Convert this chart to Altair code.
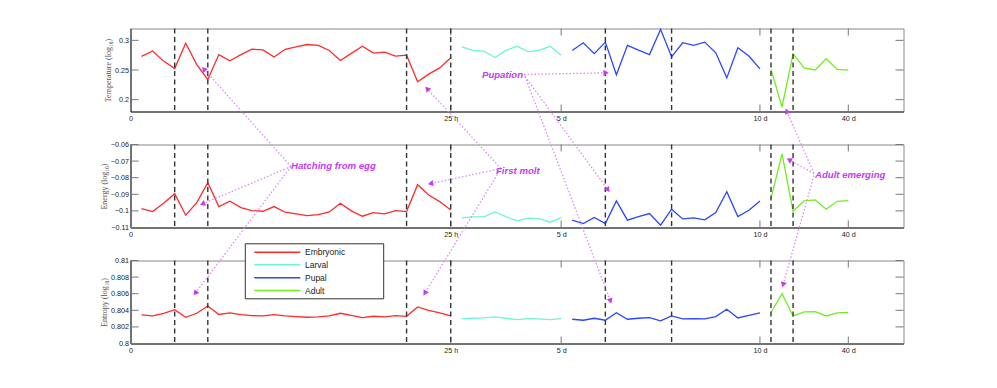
import math
import altair as alt
import pandas as pd

# ---------------- data ----------------
stages = ["Embryonic", "Larval", "Pupal", "Adult"]
stage_colors = ["#ff2a2a", "#6ef5d6", "#2845ff", "#72ee1e"]

temp_embryonic = [0.273, 0.282, 0.265, 0.2525, 0.295, 0.259, 0.234, 0.276, 0.2655, 0.276,
                  0.285, 0.284, 0.272, 0.285, 0.289, 0.293, 0.2915, 0.283, 0.266, 0.278,
                  0.290, 0.2785, 0.280, 0.2735, 0.275, 0.230, 0.243, 0.2535, 0.2705]
temp_larval = [0.289, 0.283, 0.282, 0.271, 0.283, 0.290, 0.281, 0.283, 0.290, 0.275]
temp_pupal = [0.283, 0.296, 0.2775, 0.297, 0.242, 0.2915, 0.2835, 0.276, 0.3186, 0.2723,
              0.296, 0.2915, 0.297, 0.279, 0.2367, 0.2876, 0.2735, 0.252]
temp_adult = [0.251, 0.1876, 0.2775, 0.2537, 0.250, 0.269, 0.251, 0.2497]

energy_embryonic = [-0.0986, -0.1004, -0.0954, -0.0896, -0.1026, -0.095, -0.083, -0.0974, -0.0942, -0.098,
                    -0.0998, -0.1002, -0.0974, -0.1008, -0.1018, -0.1028, -0.1022, -0.1006, -0.0954, -0.1,
                    -0.1032, -0.101, -0.1018, -0.0998, -0.1004, -0.0842, -0.0904, -0.0944, -0.0994]
energy_larval = [-0.1042, -0.1036, -0.1036, -0.1006, -0.1034, -0.106, -0.1044, -0.1046, -0.1068, -0.104]
energy_pupal = [-0.1056, -0.1076, -0.104, -0.1076, -0.094, -0.1056, -0.1034, -0.1016, -0.1086, -0.099,
                -0.1048, -0.1042, -0.1054, -0.101, -0.0884, -0.1034, -0.0996, -0.094]
energy_adult = [-0.0926, -0.0656, -0.1002, -0.094, -0.0934, -0.099, -0.0942, -0.0938]

entropy_embryonic = [0.80344, 0.80332, 0.80364, 0.80408, 0.80316, 0.80364, 0.80452, 0.8035, 0.8037, 0.80348,
                     0.80336, 0.80332, 0.80348, 0.80332, 0.80324, 0.80316, 0.8032, 0.80332, 0.80364, 0.8034,
                     0.80312, 0.80328, 0.8032, 0.80336, 0.80328, 0.8044, 0.804, 0.80368, 0.80332]
entropy_larval = [0.8030, 0.80304, 0.80308, 0.8032, 0.80304, 0.80288, 0.803, 0.80296, 0.80288, 0.803]
entropy_pupal = [0.80292, 0.8028, 0.80304, 0.8028, 0.8037, 0.80292, 0.80304, 0.80312, 0.80272, 0.80332,
                 0.80296, 0.803, 0.80296, 0.80324, 0.80412, 0.80308, 0.8034, 0.8037]
entropy_adult = [0.8037, 0.806, 0.80332, 0.8038, 0.80384, 0.80332, 0.8037, 0.80376]

# x axis: running sample number, labelled at stage boundaries
x_tick_values = [0, 29, 39, 57, 65]
x_tick_labels = ["0", "25 h", "5 d", "10 d", "40 d"]
x_max = 70
# dashed event markers (sample numbers)
event_samples = [4, 7, 25, 29, 43, 49, 58, 60]

temp_ticks = [0.2, 0.25, 0.3]
energy_ticks = [-0.11, -0.1, -0.09, -0.08, -0.07, -0.06]
entropy_ticks = [0.8, 0.802, 0.804, 0.806, 0.808, 0.81]

# annotations (page pixel positions)
annot_labels = ["Hatching from egg", "First molt", "Pupation", "Adult emerging"]
annot_text_pos = [(290, 166), (495, 171), (481, 75), (814, 175)]
annot_arrows = [
    ((290, 167), (201.7, 68.3)), ((290, 167), (200, 205)), ((290, 167), (193.3, 295)),
    ((500, 169), (425, 88)), ((500, 169), (428, 184.5)), ((500, 169), (423, 295)),
    ((523, 75), (606.7, 73.3)), ((524, 77), (608, 191.7)), ((524, 77), (610, 303)),
    ((813, 174), (785, 110)), ((813, 174), (786.7, 159.5)), ((813, 176), (781.7, 286.7)),
]

# ---------------- layout constants ----------------
W, H = 773, 83
SPACING = 33
PLOT_LEFT, PLOT_TOP = 129.5, 29
BOTTOM_TOP = PLOT_TOP + 2 * (H + SPACING)

TICK_FONT = "Liberation Sans"
TITLE_FONT = "Liberation Serif"
ANNOT_COLOR = "#c23cf2"
ARROW_COLOR = "#d98af7"

label_expr = " : ".join(
    f"datum.value == {v} ? '{l}'" for v, l in zip(x_tick_values, x_tick_labels)
) + " : ''"


def stage_frame(series):
    rows, n = [], 0
    for s, vals in zip(stages, series):
        for v in vals:
            n += 1
            rows.append({"sample": n, "value": v, "stage": s})
    return pd.DataFrame(rows)


def panel_layers(series, ydomain, yticks, ytitle, title_x):
    df = stage_frame(series)
    xs = alt.Scale(domain=[0, x_max], nice=False, zero=False)
    ys = alt.Scale(domain=ydomain, nice=False, zero=False)
    xaxis = alt.Axis(values=x_tick_values, labelExpr=label_expr, ticks=False, tickSize=0,
                     grid=False, title=None, domainColor="#222", labelFont=TICK_FONT,
                     labelFontSize=7.2, labelColor="#222", labelPadding=3, labelFlush=False,
                     labelOverlap=False)
    yaxis = alt.Axis(values=yticks, format="~g", ticks=False, tickSize=0, grid=False,
                     title=ytitle, titleFont=TITLE_FONT, titleFontSize=8, titleFontWeight="normal",
                     titleColor="#555", titleAngle=270, titleX=title_x, titleY=H / 2,
                     titleAlign="center", titleBaseline="middle",
                     domainColor="#222", labelFont=TICK_FONT, labelFontSize=7.2,
                     labelColor="#222", labelPadding=2, labelOverlap=False, labelFlush=False)
    X = lambda: alt.X("sample:Q", scale=xs, axis=xaxis)
    Y = lambda: alt.Y("value:Q", scale=ys, axis=yaxis)

    lines = alt.Chart(df).mark_line(strokeWidth=1.3).encode(
        x=X(), y=Y(),
        color=alt.Color("stage:N", scale=alt.Scale(domain=stages, range=stage_colors), legend=None),
        detail="stage:N",
    )
    ev = pd.DataFrame({"sample": event_samples})
    dashed = alt.Chart(ev).mark_rule(color="#333", strokeWidth=1.4, strokeDash=[5, 3.5]).encode(x=X())
    xt = pd.DataFrame({"sample": x_tick_values})
    xticks_b = alt.Chart(xt).mark_rule(color="#777", strokeWidth=1).encode(
        x=X(), y=alt.value(H - 7), y2=alt.value(H))
    xticks_t = alt.Chart(xt).mark_rule(color="#777", strokeWidth=1).encode(
        x=X(), y=alt.value(0), y2=alt.value(7))
    yt = pd.DataFrame({"value": yticks})
    yticks_l = alt.Chart(yt).mark_rule(color="#777", strokeWidth=1).encode(
        y=Y(), x=alt.value(0), x2=alt.value(8))
    yticks_r = alt.Chart(yt).mark_rule(color="#777", strokeWidth=1).encode(
        y=Y(), x=alt.value(W - 8), x2=alt.value(W))
    return alt.layer(lines, xticks_b, xticks_t, yticks_l, yticks_r, dashed)


top = panel_layers([temp_embryonic, temp_larval, temp_pupal, temp_adult],
                   [0.18, 0.32], temp_ticks, "Temperature (log₁₀)", -22.5).properties(width=W, height=H)
mid = panel_layers([energy_embryonic, energy_larval, energy_pupal, energy_adult],
                   [-0.11, -0.06], energy_ticks, "Energy (log₁₀)", -26).properties(width=W, height=H)
bot_data = panel_layers([entropy_embryonic, entropy_larval, entropy_pupal, entropy_adult],
                        [0.8, 0.81], entropy_ticks, "Entropy (log₁₀)", -26)

# ---- annotation & legend overlay (pixel coordinates relative to bottom panel) ----
arrow_rows, head_rows = [], []
for (sx, sy), (ex, ey) in annot_arrows:
    dx, dy = ex - sx, ey - sy
    L = math.hypot(dx, dy)
    ux, uy = dx / L, dy / L
    arrow_rows.append({"x0": sx - PLOT_LEFT, "y0": sy - BOTTOM_TOP,
                       "x1": ex - PLOT_LEFT, "y1": ey - BOTTOM_TOP})
    ang = math.degrees(math.atan2(dx, -dy)) % 360
    head_rows.append({"hx": ex - 2.5 * ux - PLOT_LEFT, "hy": ey - 2.5 * uy - BOTTOM_TOP, "ang": ang})
arrows_df = pd.DataFrame(arrow_rows)
heads_df = pd.DataFrame(head_rows)
text_df = pd.DataFrame({
    "label": annot_labels,
    "tx": [p[0] - PLOT_LEFT for p in annot_text_pos],
    "ty": [p[1] - BOTTOM_TOP for p in annot_text_pos],
})

arrow_lines = alt.Chart(arrows_df).mark_rule(color=ARROW_COLOR, strokeWidth=1.3, strokeDash=[1.5, 2]).encode(
    x=alt.X("x0:Q", scale=None, axis=None), y=alt.Y("y0:Q", scale=None, axis=None),
    x2="x1:Q", y2="y1:Q")
arrow_heads = alt.Chart(heads_df).mark_point(shape="triangle", filled=True, size=38, opacity=1,
                                             color=ANNOT_COLOR).encode(
    x=alt.X("hx:Q", scale=None, axis=None), y=alt.Y("hy:Q", scale=None, axis=None),
    angle=alt.Angle("ang:Q", scale=None, legend=None))
annot_text = alt.Chart(text_df).mark_text(align="left", baseline="middle", font=TICK_FONT,
                                          fontSize=9.6, fontStyle="italic", fontWeight="bold",
                                          color=ANNOT_COLOR).encode(
    x=alt.X("tx:Q", scale=None, axis=None), y=alt.Y("ty:Q", scale=None, axis=None), text="label:N")

# legend drawn as marks
LEG_X0, LEG_Y0, LEG_X1, LEG_Y1 = 244.3, 244.3, 382.7, 299.3
leg_row_y = [252.7, 265.2, 278.2, 291.0]
legend_box_df = pd.DataFrame({"x0": [LEG_X0 - PLOT_LEFT], "x1": [LEG_X1 - PLOT_LEFT],
                              "y0": [LEG_Y0 - BOTTOM_TOP], "y1": [LEG_Y1 - BOTTOM_TOP]})
legend_df = pd.DataFrame({
    "stage": stages, "color": stage_colors,
    "lx0": [253.3 - PLOT_LEFT] * 4, "lx1": [299.3 - PLOT_LEFT] * 4,
    "tx": [304 - PLOT_LEFT] * 4,
    "ly": [y - BOTTOM_TOP for y in leg_row_y],
})
legend_box = alt.Chart(legend_box_df).mark_rect(fill="white", stroke="#333", strokeWidth=1).encode(
    x=alt.X("x0:Q", scale=None, axis=None), x2="x1:Q",
    y=alt.Y("y0:Q", scale=None, axis=None), y2="y1:Q")
legend_lines = alt.Chart(legend_df).mark_rule(strokeWidth=1.6).encode(
    x=alt.X("lx0:Q", scale=None, axis=None), x2="lx1:Q",
    y=alt.Y("ly:Q", scale=None, axis=None), color=alt.Color("color:N", scale=None, legend=None))
legend_text = alt.Chart(legend_df).mark_text(align="left", baseline="middle", font=TICK_FONT,
                                             fontSize=8.5, color="#222").encode(
    x=alt.X("tx:Q", scale=None, axis=None), y=alt.Y("ly:Q", scale=None, axis=None), text="stage:N")

overlay = alt.layer(legend_box, legend_lines, legend_text, arrow_lines, arrow_heads, annot_text)

bot = alt.layer(bot_data, overlay).resolve_scale(
    x="independent", y="independent", color="independent", angle="independent"
).properties(width=W, height=H)

chart = alt.vconcat(top, mid, bot, spacing=SPACING, bounds="flush").properties(
    padding={"left": 91.5, "top": 17.5, "right": 5, "bottom": 5}
).configure_view(stroke="#888", strokeWidth=1)

chart.save("out.html", embed_options={"renderer": "svg", "actions": False})
